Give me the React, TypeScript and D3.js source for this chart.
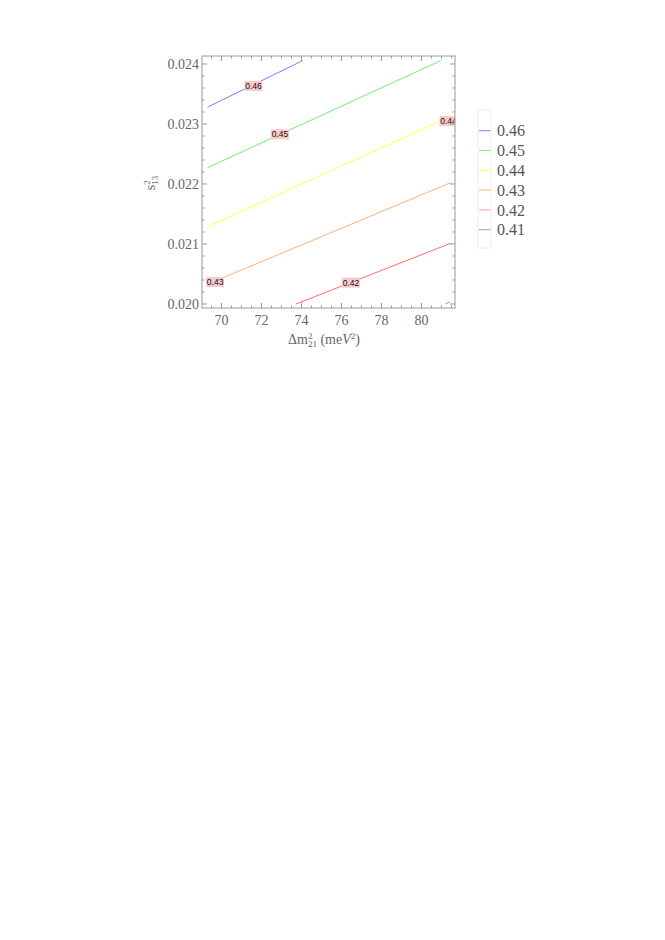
import * as d3 from "d3";
import { useEffect, useRef } from "react";

// contour levels, top to bottom
const levels = [0.46, 0.45, 0.44, 0.43, 0.42, 0.41];
const lineColors = ["#8080ff", "#70ee70", "#ffff50", "#ffb070", "#ff6a6a", "#999999"];
const legendColors = ["#8080ff", "#80ee80", "#ffff50", "#ffb070", "#ffa0a0", "#a0a0a0"];

// contour lines: [dm21, s13^2]
const contour046 = [[69.3, 0.02328], [74.05, 0.024055]];
const contour045 = [[69.3, 0.022272], [80.96, 0.024055]];
const contour044 = [[69.3, 0.021288], [81.5, 0.02313]];
const contour043 = [[69.3, 0.02033], [81.46, 0.022022]];
const contour042 = [[73.73, 0.02], [81.46, 0.021012]];
const contour041 = [[81.2, 0.02], [81.42, 0.020035]];
const contours = [contour046, contour045, contour044, contour043, contour042, contour041];

// in-line labels
const labelText = ["0.46", "0.45", "0.44", "0.43", "0.42"];
const labelX = [71.6, 72.92, 81.35, 69.68, 76.47];
const labelY = [0.023633, 0.022828, 0.02305, 0.020367, 0.020355];

const xTicks = [70, 72, 74, 76, 78, 80];
const yTicks = [0.02, 0.021, 0.022, 0.023, 0.024];

const App = () => {
  const ref = useRef<SVGSVGElement>(null);

  useEffect(() => {
    const svg = d3.select(ref.current);
    svg.selectAll("*").remove();

    const left = 202, right = 455, top = 56, bottom = 308;
    const x = d3.scaleLinear().domain([69.025, 81.675]).range([left, right]);
    const y = d3.scaleLinear().domain([0.019933, 0.024133]).range([bottom, top]);

    const serif = "'Liberation Serif', 'Times New Roman', serif";
    const frameColor = "#9a9a9a";

    svg.append("defs").append("clipPath").attr("id", "plotclip")
      .append("rect").attr("x", left).attr("y", top)
      .attr("width", right - left).attr("height", bottom - top);

    // contour lines
    const line = d3.line<number[]>().x((d) => x(d[0])).y((d) => y(d[1]));
    const g = svg.append("g").attr("clip-path", "url(#plotclip)");
    g.selectAll("path.contour")
      .data(contours)
      .join("path")
      .attr("class", "contour")
      .attr("d", (d) => line(d))
      .attr("fill", "none")
      .attr("stroke", (_, i) => lineColors[i])
      .attr("stroke-width", 1);

    // labels on the lines
    const lab = g.selectAll("g.lab").data(labelText).join("g")
      .attr("class", "lab")
      .attr("transform", (_, i) => `translate(${x(labelX[i])},${y(labelY[i])})`);
    lab.append("rect")
      .attr("x", -9).attr("y", -5).attr("width", 18).attr("height", 10)
      .attr("fill", "#f8caca");
    lab.append("text")
      .text((d) => d)
      .attr("text-anchor", "middle")
      .attr("dy", "0.35em")
      .attr("font-family", "'Liberation Sans', Arial, sans-serif")
      .attr("font-size", 8.5)
      .attr("fill", "#111");

    // frame
    svg.append("rect")
      .attr("x", left).attr("y", top)
      .attr("width", right - left).attr("height", bottom - top)
      .attr("fill", "none").attr("stroke", frameColor).attr("stroke-width", 1);

    const xMinor = d3.range(69.5, 81.6, 0.5).filter((v) => Math.abs(v / 2 - Math.round(v / 2)) > 1e-6);
    const yMinor = d3.range(0.0198, 0.02415, 0.0002).filter(
      (v) => v > 0.019933 && v < 0.024133 && Math.abs(v * 1000 - Math.round(v * 1000)) > 1e-6
    );

    const tk = svg.append("g").attr("stroke", frameColor).attr("stroke-width", 1);
    // bottom & top ticks
    [[bottom, -1], [top, 1]].forEach(([pos, dir]) => {
      tk.append("g").selectAll("line").data(xTicks).join("line")
        .attr("x1", (d) => x(d)).attr("x2", (d) => x(d))
        .attr("y1", pos).attr("y2", pos + dir * 5);
      tk.append("g").selectAll("line").data(xMinor).join("line")
        .attr("x1", (d) => x(d)).attr("x2", (d) => x(d))
        .attr("y1", pos).attr("y2", pos + dir * 2.5);
    });
    // left & right ticks
    [[left, 1], [right, -1]].forEach(([pos, dir]) => {
      tk.append("g").selectAll("line").data(yTicks).join("line")
        .attr("y1", (d) => y(d)).attr("y2", (d) => y(d))
        .attr("x1", pos).attr("x2", pos + dir * 5);
      tk.append("g").selectAll("line").data(yMinor).join("line")
        .attr("y1", (d) => y(d)).attr("y2", (d) => y(d))
        .attr("x1", pos).attr("x2", pos + dir * 2.5);
    });

    // tick labels
    svg.append("g").selectAll("text").data(xTicks).join("text")
      .attr("x", (d) => x(d)).attr("y", bottom + 17)
      .attr("text-anchor", "middle")
      .attr("font-family", serif).attr("font-size", 14).attr("fill", "#666")
      .text((d) => d3.format("d")(d));
    svg.append("g").selectAll("text").data(yTicks).join("text")
      .attr("x", left - 3).attr("y", (d) => y(d))
      .attr("dy", "0.33em")
      .attr("text-anchor", "end")
      .attr("font-family", serif).attr("font-size", 14).attr("fill", "#666")
      .text((d) => d3.format(".3f")(d));

    // x axis title
    const xt = svg.append("text")
      .attr("x", 324).attr("y", 344)
      .attr("text-anchor", "middle")
      .attr("font-family", serif).attr("font-size", 14).attr("fill", "#666");
    xt.append("tspan").text("Δm");
    xt.append("tspan").attr("font-size", 9).attr("dy", -5).text("2");
    xt.append("tspan").attr("font-size", 9).attr("dx", -4.5).attr("dy", 8).text("21");
    xt.append("tspan").attr("dy", -3).text(" (me");
    xt.append("tspan").attr("font-style", "italic").text("V");
    xt.append("tspan").attr("font-size", 9).attr("dy", -5).text("2");
    xt.append("tspan").attr("dy", 5).text(")");

    // y axis title
    const yt = svg.append("text")
      .attr("transform", "translate(155,183) rotate(-90)")
      .attr("text-anchor", "middle")
      .attr("font-family", serif).attr("font-size", 14).attr("fill", "#666");
    yt.append("tspan").text("s");
    yt.append("tspan").attr("font-size", 9).attr("dy", -5).text("2");
    yt.append("tspan").attr("font-size", 9).attr("dx", -4.5).attr("dy", 8).text("13");

    // legend
    const lx = 478, ly = 110;
    svg.append("rect")
      .attr("x", lx).attr("y", ly).attr("width", 13).attr("height", 138)
      .attr("fill", "#fff").attr("stroke", "#eeeeee");
    const items = svg.append("g").selectAll("g").data(levels).join("g")
      .attr("transform", (_, i) => `translate(${lx},${130.7 + i * 19.8})`);
    items.append("line")
      .attr("x1", 1).attr("x2", 12.5)
      .attr("stroke", (_, i) => legendColors[i]).attr("stroke-width", 1);
    items.append("text")
      .attr("x", 19).attr("dy", "0.35em")
      .attr("font-family", serif).attr("font-size", 16).attr("fill", "#555")
      .text((d) => d3.format(".2f")(d));
  }, []);

  return (
    <div style={{ position: "absolute", left: 0, top: 0 }}>
      <svg ref={ref} width={665} height={940} style={{ display: "block" }} />
    </div>
  );
};

export default App;
